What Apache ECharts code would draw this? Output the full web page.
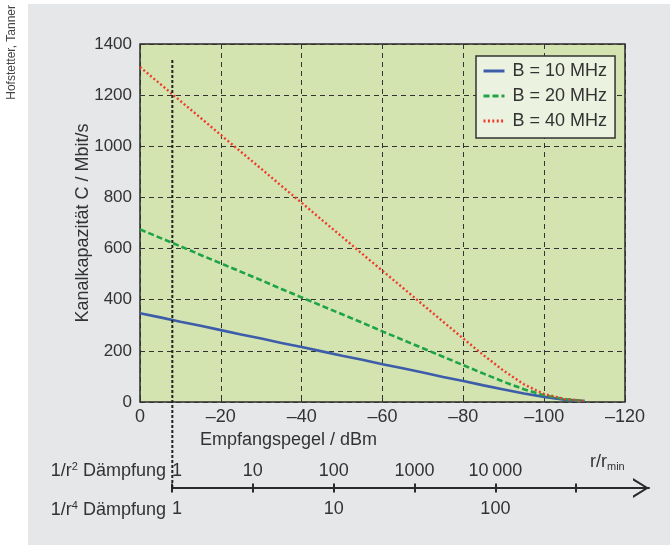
<!DOCTYPE html>
<html><head><meta charset="utf-8">
<script src="https://cdn.jsdelivr.net/npm/echarts@6/dist/echarts.min.js"></script>
<style>html,body{margin:0;padding:0;background:#fff}#c{width:670px;height:545px}</style>
</head><body><div id="c"></div>
<script>
// Empfangspegel (dBm)
const levels = [0,-5,-10,-15,-20,-25,-30,-35,-40,-45,-50,-55,-60,-65,-70,-75,-80,-85,-90,-95,-100,-105,-110];
// Kanalkapazität (Mbit/s)
const cap10 = [347,331,314,298,281,264,248,231,215,198,181,165,148,132,115,98,82,65,49,33,20,9,4];
const cap20 = [675,642,609,575,542,509,476,442,409,376,343,310,276,243,210,177,144,111,79,50,26,11,4];
const cap40 = [1310,1244,1177,1111,1044,978,912,845,779,712,646,579,513,447,380,314,248,183,122,69,31,12,4];
const seriesNames = ['B = 10 MHz','B = 20 MHz','B = 40 MHz'];
const xMin = -120, xMax = 0, xStep = 20;
const yMin = 0, yMax = 1400, yStep = 200;
const markerLevel = -8;           // r = r_min
const decadeTicks = [0,1,2,3,4,5];
const r2Positions = [0,1,2,3,4];
const r2Labels = ['1','10','100','1000','10\u2009000'];
const r4Positions = [0,2,4];
const r4Labels = ['1','10','100'];
const decadeMax = 5.9;

const F = 'Liberation Sans, Arial, sans-serif';
const TXT = '#333';
const FS = 18;

const chart = echarts.init(document.getElementById('c'), null, {renderer:'canvas'});
const mk = (name, ys, color, width, type) => ({
  name, type:'line', xAxisIndex:0, yAxisIndex:0, symbol:'none', smooth:false,
  data: levels.map((x,i)=>[x, ys[i]]),
  lineStyle:{color, width, type}, itemStyle:{color}, z:3, silent:true
});
const option = {
  backgroundColor:'#e6e7e9',
  animation:false,
  textStyle:{fontFamily:F},
  grid:[
    {left:140, right:45, top:44, bottom:143, show:true, backgroundColor:'#d3e4b1', borderColor:'#2a2a2a', borderWidth:1.5},
    {left:172, right:21, top:480, bottom:57},
    {left:140, right:45, top:58, bottom:57}
  ],
  xAxis:[
    {type:'value', gridIndex:0, min:xMin, max:xMax, interval:xStep, inverse:true,
     axisLine:{show:false}, axisTick:{show:true, inside:true, length:5, lineStyle:{color:'#333'}},
     splitLine:{show:true, lineStyle:{color:'#333', width:1, type:[5,4]}},
     axisLabel:{color:TXT, fontSize:FS, fontFamily:F, margin:6,
       formatter:v=> v===0 ? '0' : '\u2013'+Math.abs(v)}},
    {type:'value', gridIndex:1, position:'bottom', min:0, max:decadeMax,
     axisLine:{show:true, lineStyle:{color:'#2a2a2a', width:2},
       symbol:['none','path://M0 16L10 0L20 16L17.6 16L10 3.6L2.4 16Z'], symbolSize:[20,16], symbolOffset:[0,-8]},
     axisTick:{show:true, inside:false, length:4.5, lineStyle:{color:'#2a2a2a', width:2}, customValues:decadeTicks},
     splitLine:{show:false},
     axisLabel:{color:TXT, fontSize:FS, fontFamily:F, margin:12, alignMinLabel:'left',
       customValues:r4Positions, formatter:v=> r4Labels[r4Positions.indexOf(v)] ?? ''}},
    {type:'value', gridIndex:1, position:'top', offset:-8, min:0, max:decadeMax,
     axisLine:{show:false},
     axisTick:{show:true, inside:false, length:4.5, lineStyle:{color:'#2a2a2a', width:2}, customValues:decadeTicks},
     splitLine:{show:false},
     axisLabel:{color:TXT, fontSize:FS, fontFamily:F, margin:8, alignMinLabel:'left',
       customValues:r2Positions, formatter:v=> r2Labels[r2Positions.indexOf(v)] ?? ''}},
    {type:'value', gridIndex:2, min:xMin, max:xMax, inverse:true, show:false}
  ],
  yAxis:[
    {type:'value', gridIndex:0, min:yMin, max:yMax, interval:yStep,
     name:'Kanalkapazität C / Mbit/s', nameLocation:'middle', nameGap:48, nameMoveOverlap:false,
     nameTextStyle:{color:TXT, fontSize:FS, fontFamily:F},
     axisLine:{show:false}, axisTick:{show:false},
     splitLine:{show:true, lineStyle:{color:'#333', width:1, type:[5,4]}},
     axisLabel:{color:TXT, fontSize:17, fontFamily:F, margin:8, formatter:v=>String(v)}},
    {type:'value', gridIndex:1, min:0, max:1, show:false},
    {type:'value', gridIndex:2, min:0, max:1, show:false}
  ],
  legend:{
    data:seriesNames, orient:'vertical', left:476, top:56,
    padding:[6,8,8,6], itemWidth:21, itemHeight:14, itemGap:7,
    backgroundColor:'#ecf2e0', borderColor:'#333', borderWidth:1.5, borderRadius:0,
    textStyle:{color:TXT, fontSize:FS, fontFamily:F, padding:[0,0,0,3]},
    itemStyle:{opacity:0}, lineStyle:{width:3},
    selectedMode:false
  },
  series:[
    mk(seriesNames[0], cap10, '#3d5ca9', 2.6, 'solid'),
    mk(seriesNames[1], cap20, '#1ea347', 2.6, [6,3]),
    mk(seriesNames[2], cap40, '#ee3b2b', 2.4, [2,2.4]),
    {name:'marker', type:'line', xAxisIndex:3, yAxisIndex:2, symbol:'none', silent:true,
     data:[[markerLevel,0],[markerLevel,1]], lineStyle:{color:'#222', width:2, type:[3,2]}, z:4}
  ],
  graphic:[
    {type:'rect', shape:{x:0,y:0,width:28,height:545}, style:{fill:'#fff'}, silent:true},
    {type:'rect', shape:{x:0,y:0,width:670,height:4}, style:{fill:'#fff'}, silent:true},
    {type:'text', x:12, y:5, rotation:Math.PI/2,
     style:{text:'Hofstetter, Tanner', fontSize:12, fontFamily:'Liberation Sans Narrow, Liberation Sans, sans-serif', fill:'#444', align:'right', verticalAlign:'middle'}},
    {type:'text', x:200, y:440,
     style:{text:'Empfangspegel / dBm', fontSize:FS, fontFamily:F, fill:TXT, align:'left', verticalAlign:'middle'}},
    {type:'text', x:166, y:471,
     style:{text:'1/r{s|2} Dämpfung', fontSize:FS, fontFamily:F, fill:TXT, align:'right', verticalAlign:'middle',
       rich:{s:{fontSize:11, fontFamily:F, fill:TXT, padding:[0,0,8,0]}}}},
    {type:'text', x:166, y:510,
     style:{text:'1/r{s|4} Dämpfung', fontSize:FS, fontFamily:F, fill:TXT, align:'right', verticalAlign:'middle',
       rich:{s:{fontSize:11, fontFamily:F, fill:TXT, padding:[0,0,8,0]}}}},
    {type:'text', x:590, y:462,
     style:{text:'r/r{m|min}', fontSize:FS, fontFamily:F, fill:TXT, align:'left', verticalAlign:'middle',
       rich:{m:{fontSize:11, fontFamily:F, fill:TXT, padding:[9,0,0,0]}}}}
  ]
};
chart.setOption(option);
</script></body></html>
